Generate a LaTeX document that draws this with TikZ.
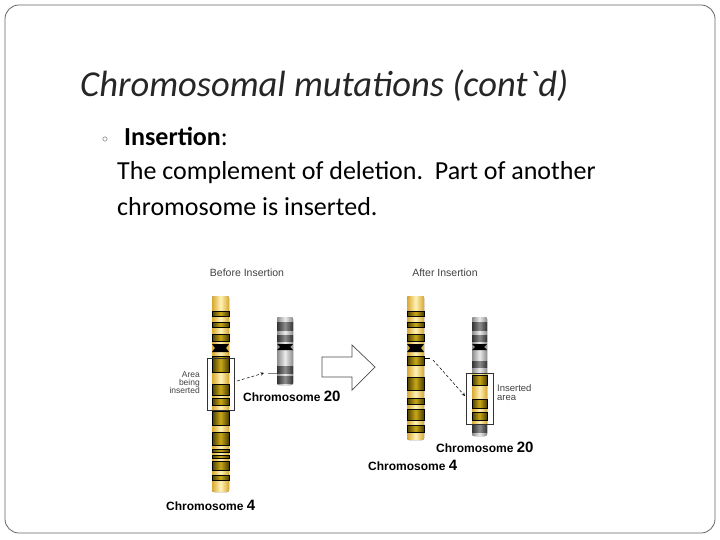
\documentclass[tikz,border=0pt]{standalone}
\usepackage{fontspec}
\setmainfont{Carlito}
\setsansfont{Liberation Sans}
\definecolor{ylo}{HTML}{D9A830}
\definecolor{yhi}{HTML}{FFF2B8}
\definecolor{bdk}{HTML}{4A3C00}
\definecolor{bmd}{HTML}{C9A818}
\tikzset{
 ybody/.style={left color=ylo, right color=ylo, middle color=yhi, draw=none},
 yband/.style={left color=bdk, right color=bdk, middle color=bmd, draw=black, line width=0.4pt},
 gbody/.style={left color=black!45, right color=black!45, middle color=black!8, draw=none},
 gband/.style={left color=black!80, right color=black!80, middle color=black!45, draw=none},
 cen/.style={fill=black, draw=none},
 small/.style={font=\sffamily\fontsize{10.5}{11}\selectfont, text=black!75, inner sep=0pt},
 chlabel/.style={font=\sffamily\bfseries\fontsize{12}{12}\selectfont, inner sep=0pt},
 ptr/.style={-stealth, densely dashed, line width=0.5pt},
 sel/.style={draw=black!80, line width=0.6pt},
 bodytxt/.style={anchor=base west, font=\fontsize{26}{30}\selectfont, inner sep=0pt}
}
\begin{document}
\begin{tikzpicture}[x=1pt,y=-1pt]
\useasboundingbox (0,0) rectangle (720,540);
\draw[black!60, rounded corners=14pt, line width=0.8pt] (5,5) rectangle (715,533);
\node[anchor=base west, font=\itshape\fontsize{36.5}{40}\selectfont, text=black!85, inner sep=0pt] (title) at (80,97) {Chromosomal mutations (cont\textasciigrave d)};
\node[anchor=base west, font=\fontsize{13}{14}\selectfont, text=black!70, inner sep=0pt] (bul) at (102,143) {$\circ$};
\node[bodytxt] (ins) at (124,146) {\textbf{Insertion}:};
\node[bodytxt] (body1) at (117,180) {The complement of deletion.\ \ Part of another};
\node[bodytxt] (body2) at (117,215) {chromosome is inserted.};
% ---------- Before ----------
\node[small] (bef) at (247,273) {Before Insertion};
\fill[ybody, rounded corners=2pt] (212,296) rectangle (229,492);
\foreach \a/\b in {311/316,322/327,334/341,356/372,384/395,398/405,411/425,432/445,449/452,455/458,461/470,475/480}
  \draw[yband] (212,\a) rectangle (229,\b);
\fill[cen] (212,344) -- (229,344) -- (226,348) -- (229,352) -- (212,352) -- (215,348) -- cycle;
\draw[sel] (207,358) rectangle (234,410);
\node[small, align=right, anchor=east, font=\sffamily\fontsize{8.5}{8}\selectfont] (area) at (200,383) {Area\\being\\inserted};
\fill[gbody, rounded corners=2pt] (277,317) rectangle (293,385);
\foreach \a/\b in {322/330,335/341,366/373,376/383}
  \fill[gband] (277,\a) rectangle (293,\b);
\fill[cen] (277,344) -- (293,344) -- (290,347) -- (293,350) -- (277,350) -- (280,347) -- cycle;
\draw[black!50] (268,373) -- (277,373);
\coordinate (p1) at (237,381);
\coordinate (p2) at (264,373);
\draw[ptr] (p1) -- (p2);
\node[chlabel, anchor=west] (c20a) at (243,396) {Chromosome {\fontsize{15}{15}\selectfont 20}};
\node[chlabel, anchor=west] (c4a) at (166,505) {Chromosome {\fontsize{15}{15}\selectfont 4}};
\draw[black!70, fill=white, line width=0.7pt] (322,357) -- (352,357) -- (352,345) -- (375,367) -- (352,390) -- (352,377) -- (322,377) -- cycle;
% ---------- After ----------
\node[small] (aft) at (445,273) {After Insertion};
\fill[ybody, rounded corners=2pt] (407,296) rectangle (424,440);
\foreach \a/\b in {311/316,322/327,334/341,356/365,377/390,398/404,409/420,425/432}
  \draw[yband] (407,\a) rectangle (424,\b);
\fill[cen] (407,344) -- (424,344) -- (421,348) -- (424,352) -- (407,352) -- (410,348) -- cycle;
\draw[black] (424,358) -- (430,358);
\fill[gbody, rounded corners=2pt] (472,317) rectangle (487,436);
\foreach \a/\b in {322/330,335/341,361/367,424/432}
  \fill[gband] (472,\a) rectangle (487,\b);
\fill[ybody] (472,373) rectangle (487,424);
\foreach \a/\b in {375/385,399/408,412/420}
  \draw[yband] (472,\a) rectangle (487,\b);
\fill[cen] (472,344) -- (487,344) -- (484,347) -- (487,350) -- (472,350) -- (475,347) -- cycle;
\draw[sel] (466,373) rectangle (493,424);
\node[small, align=left, anchor=west, font=\sffamily\fontsize{9.5}{9}\selectfont] (iarea) at (497,393) {Inserted\\area};
\coordinate (q1) at (433,360);
\coordinate (q2) at (465,396);
\draw[ptr] (q1) -- (q2);
\node[chlabel, anchor=west] (c20b) at (436,447) {Chromosome {\fontsize{15}{15}\selectfont 20}};
\node[chlabel, anchor=west] (c4b) at (368,465) {Chromosome {\fontsize{15}{15}\selectfont 4}};
\end{tikzpicture}
\end{document}
